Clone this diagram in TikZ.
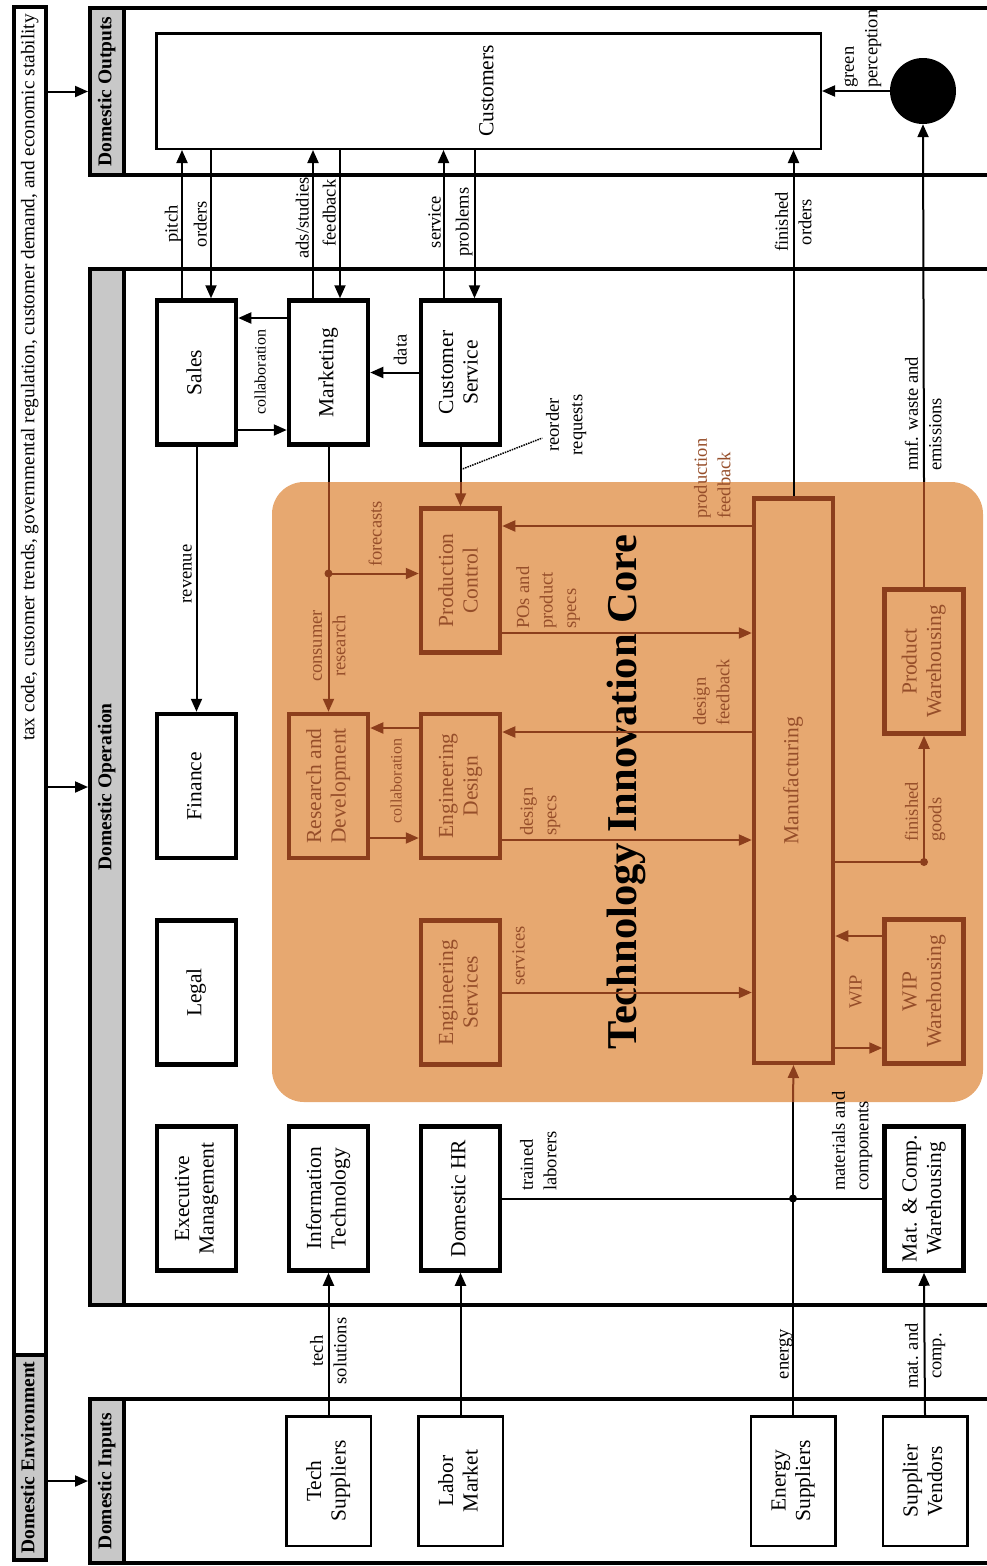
\documentclass[tikz,border=0pt]{standalone}
\usepackage{fontspec}
\setmainfont{Liberation Serif}
\usepackage{graphicx}
\usepackage{tikz}
\usetikzlibrary{arrows.meta}

\definecolor{panelgray}{RGB}{200,200,200}
\definecolor{corefill}{RGB}{231,168,112}
\definecolor{brn}{RGB}{140,62,28}
\definecolor{brntext}{RGB}{150,78,42}

\newcommand{\rottext}[2][c]{\rotatebox{90}{\begin{tabular}{@{}#1@{}}#2\end{tabular}}}
\newcommand{\boxfont}{\fontsize{21.5}{24.5}\selectfont}
\newcommand{\tagfont}{\fontsize{18.5}{23.5}\selectfont}
\newcommand{\smalltagfont}{\fontsize{16}{18}\selectfont}
\newcommand{\panelfont}{\fontsize{19.5}{22}\selectfont\bfseries}
\newcommand{\titlefont}{\fontsize{42.5}{45}\selectfont\bfseries}

\begin{document}
\begin{tikzpicture}[x=1pt, y=-1pt, node distance=132pt, >={Triangle[length=13pt,width=11pt]}]
\tikzstyle{opbox} = [draw, rectangle, fill=white, line width=4.5pt, minimum width=79pt, minimum height=144pt, inner sep=0pt, font=\boxfont]
\tikzstyle{corebox} = [opbox, draw=brn, fill=none, text=brntext]
\tikzstyle{inbox} = [draw, rectangle, fill=white, line width=2.5pt, minimum width=84.5pt, minimum height=129.5pt, inner sep=0pt, font=\boxfont]
\tikzstyle{paneltag} = [draw, rectangle, fill=panelgray, line width=4pt, minimum width=34pt, inner sep=0pt, font=\panelfont]
\tikzstyle{lbl} = [inner sep=0pt, font=\tagfont]
\tikzstyle{line} = [draw, line width=2pt]
\tikzstyle{arr} = [line, ->]
\tikzstyle{bline} = [draw=brn, line width=2pt]
\tikzstyle{barr} = [bline, ->]

\useasboundingbox (0,0) rectangle (987,1566);
\clip (0,0) rectangle (987,1566);

% environment strip
\node[draw, line width=4pt, minimum width=32pt, minimum height=1553pt, inner sep=0pt] (env) at (30,783.5) {};
\node[paneltag, minimum width=32pt, minimum height=205pt] (envlbl) at (30,1457.5) {\rottext{Domestic Environment}};
\node[lbl, anchor=north, font=\fontsize{19.3}{22}\selectfont] (envtxt) at (30,14) {\rottext{tax code, customer trends, governmental regulation, customer demand, and economic stability}};

% panels
\draw[line width=4pt] (90,8) rectangle (1010,175);
\node[paneltag, minimum height=167pt] (outlbl) at (107,91.5) {\rottext{Domestic Outputs}};
\draw[line width=4pt] (90,269) rectangle (1010,1305);
\node[paneltag, minimum height=1036pt] (oplbl) at (107,787) {\rottext{Domestic Operation}};
\draw[line width=4pt] (90,1399) rectangle (1010,1563);
\node[paneltag, minimum height=164pt] (inlbl) at (107,1481) {\rottext{Domestic Inputs}};

\draw[arr] (env.east |- outlbl.west) -- (outlbl.west);
\draw[arr] (env.east |- oplbl.west) -- (oplbl.west);
\draw[arr] (env.east |- inlbl.west) -- (inlbl.west);

% outputs
\node[draw, line width=2.5pt, minimum width=664.5pt, minimum height=115.5pt, inner sep=0pt, font=\boxfont] (cust) at (488.5,91) {\rottext{Customers}};
\node[circle, fill=black, minimum size=66pt, inner sep=0pt] (green) at (923,91) {};

% technology innovation core
\node[fill=corefill, rounded corners=32pt, minimum width=711pt, minimum height=620pt, inner sep=0pt, font=\titlefont] (core) at (627.5,792) {\rottext{Technology Innovation Core}};

% operation boxes
\node[opbox] (sales) at (196.5,372.5) {\rottext{Sales}};
\node[opbox, right of=sales] (mkt) {\rottext{Marketing}};
\node[opbox, right of=mkt] (cserv) {\rottext{Customer\\Service}};
\node[corebox, below of=cserv, yshift=-76pt] (pc) {\rottext{Production\\Control}};
\node[opbox, below of=sales, yshift=-281.5pt] (fin) {\rottext{Finance}};
\node[corebox, right of=fin] (rnd) {\rottext{Research and\\Development}};
\node[corebox, right of=rnd] (ed) {\rottext{Engineering\\Design}};
\node[opbox, below of=fin, yshift=-74.5pt] (legal) {\rottext{Legal}};
\node[corebox, right of=legal, xshift=132pt] (es) {\rottext{Engineering\\Services}};
\node[opbox, below of=legal, yshift=-74pt] (exec) {\rottext{Executive\\Management}};
\node[opbox, right of=exec] (it) {\rottext{Information\\Technology}};
\node[opbox, right of=it] (hr) {\rottext{Domestic HR}};

\node[corebox, minimum height=564.5pt] (mfg) at (793.5,780.5) {\rottext{Manufacturing}};
\node[corebox] (pwh) at (924,661.5) {\rottext{Product\\Warehousing}};
\node[corebox] (wip) at (924,991.5) {\rottext{WIP\\Warehousing}};
\node[opbox] (mcw) at (924,1198.5) {\rottext{Mat. \& Comp.\\Warehousing}};

% inputs
\node[inbox] (techsup) at (328.5,1481) {\rottext{Tech\\Suppliers}};
\node[inbox, right of=techsup] (labor) {\rottext{Labor\\Market}};
\node[inbox] (energy) at (793,1481) {\rottext{Energy\\Suppliers}};
\node[inbox, right of=energy] (vendors) {\rottext{Supplier\\Vendors}};

% customers and front office
\draw[arr] ([xshift=-14.5pt]sales.north) -- ([xshift=-14.5pt]sales.north |- cust.south);
\draw[arr] ([xshift=14.5pt]sales.north |- cust.south) -- ([xshift=14.5pt]sales.north);
\draw[arr] ([xshift=-15.5pt]mkt.north) -- ([xshift=-15.5pt]mkt.north |- cust.south);
\draw[arr] ([xshift=11.5pt]mkt.north |- cust.south) -- ([xshift=11.5pt]mkt.north);
\draw[arr] ([xshift=-17pt]cserv.north) -- ([xshift=-17pt]cserv.north |- cust.south);
\draw[arr] ([xshift=14pt]cserv.north |- cust.south) -- ([xshift=14pt]cserv.north);
\draw[arr] ([yshift=54.5pt]mkt.west) -- ([yshift=54.5pt]sales.east);
\draw[arr] ([yshift=-57.5pt]sales.east) -- ([yshift=-57.5pt]mkt.west);
\draw[arr] (cserv.west) -- (mkt.east);
\draw[arr] (sales.south) -- (fin.north);
\draw[arr] (mfg.north) -- (mfg.north |- cust.south);
\draw[line, brn] (pwh.north) -- (pwh.north |- core.north);
\draw[arr] (pwh.north |- core.north) -- (green.south);
\draw[arr] (green.west) -- (green.west -| cust.east);

\node[lbl] (lpitch) at (173,224) {\rottext{pitch}};
\node[lbl] (lorders) at (202,224) {\rottext{orders}};
\node[lbl] (lads) at (304,218) {\rottext{ads/studies}};
\node[lbl] (lfeed) at (331,213) {\rottext{feedback}};
\node[lbl] (lserv) at (436,222) {\rottext{service}};
\node[lbl] (lprob) at (464,222) {\rottext{problems}};
\node[lbl] (lfinord) at (795,222) {\rottext{finished\\orders}};
\node[lbl, anchor=south] (lgreen) at (861,88) {\rottext[l]{green\\perception}};
\node[lbl, font=\smalltagfont] (lcollab) at (262,372) {\rottext{collaboration}};
\node[lbl] (ldata) at (402,350) {\rottext{data}};
\node[lbl] (lrev) at (187,574) {\rottext{revenue}};
\node[lbl] (lreorder) at (566,425) {\rottext{reorder\\requests}};
\node[lbl, anchor=south] (lwaste) at (925,471) {\rottext[l]{mnf. waste and\\emissions}};

% core flows
\draw[line] (mkt.south) -- (mkt.south |- core.north);
\draw[barr] (mkt.south |- core.north) -- (rnd.north);
\coordinate (fork) at ([yshift=7pt]mkt.south |- pc.west);
\fill[brn] (fork) circle (4pt);
\draw[barr] (fork) -- (fork -| pc.west);
\draw[line] (cserv.south) -- (cserv.south |- core.north);
\draw[barr] (cserv.south |- core.north) -- (pc.north);
\draw[densely dotted, line width=1.5pt] ([yshift=-23pt]cserv.south) -- ([yshift=-13pt]lreorder.west);
\draw[barr] ([yshift=-52.5pt]pc.east) -- ([yshift=-52.5pt]pc.east -| mfg.west);
\draw[barr] ([yshift=54.5pt]pc.east -| mfg.west) -- ([yshift=54.5pt]pc.east);
\draw[barr] ([yshift=54pt]ed.east -| mfg.west) -- ([yshift=54pt]ed.east);
\draw[barr] ([yshift=-54pt]ed.east) -- ([yshift=-54pt]ed.east -| mfg.west);
\draw[barr] ([yshift=58pt]ed.west) -- ([yshift=58pt]rnd.east);
\draw[barr] ([yshift=-52pt]rnd.east) -- ([yshift=-52pt]ed.west);
\draw[barr] (es.east) -- (es.east -| mfg.west);
\coordinate (goods) at ([yshift=-81.5pt]mfg.east -| pwh.south);
\draw[bline] ([yshift=-81.5pt]mfg.east) -- (goods);
\fill[brn] (goods) circle (4pt);
\draw[barr] (goods) -- (pwh.south);
\draw[barr] ([yshift=-56.5pt]wip.west -| mfg.east) -- ([yshift=-56.5pt]wip.west);
\draw[barr] ([yshift=55.5pt]wip.west) -- ([yshift=55.5pt]wip.west -| mfg.east);

\node[lbl, text=brntext] (lfore) at (377,534) {\rottext{forecasts}};
\node[lbl, text=brntext] (lcons) at (329,646) {\rottext{consumer\\research}};
\node[lbl, anchor=south, text=brntext] (lpos) at (548,629) {\rottext[l]{POs and\\product\\specs}};
\node[lbl, anchor=south, text=brntext] (lprodfb) at (714,519) {\rottext[l]{production\\feedback}};
\node[lbl, anchor=south, text=brntext] (ldesfb) at (713,726) {\rottext[l]{design\\feedback}};
\node[lbl, anchor=south, text=brntext] (ldesspec) at (540,836) {\rottext[l]{design\\specs}};
\node[lbl, font=\smalltagfont, text=brntext] (lcollab2) at (398,781) {\rottext{collaboration}};
\node[lbl, anchor=south, text=brntext] (lsvc) at (520,986) {\rottext{services}};
\node[lbl, text=brntext] (lwip) at (857,992) {\rottext{WIP}};
\node[lbl, anchor=south, text=brntext] (lgoods) at (925,842) {\rottext[l]{finished\\goods}};

% supply side
\coordinate (supply) at (energy.north |- hr.east);
\draw[line] (hr.east) -- (mcw.west);
\fill (supply) circle (4pt);
\draw[line] (energy.north) -- (energy.north |- core.south);
\draw[barr] (energy.north |- core.south) -- (mfg.south);
\draw[arr] (vendors.north) -- (mcw.south);
\draw[arr] (techsup.north) -- (it.south);
\draw[arr] (labor.north) -- (hr.south);

\node[lbl, anchor=south] (ltrained) at (540,1191) {\rottext[l]{trained\\laborers}};
\node[lbl, anchor=south] (lmat) at (852,1191) {\rottext[l]{materials and\\components}};
\node[lbl] (lenergy) at (784,1354) {\rottext{energy}};
\node[lbl] (lmatcomp) at (925,1356) {\rottext{mat. and\\comp.}};
\node[lbl] (ltech) at (330,1351) {\rottext{tech\\solutions}};
\end{tikzpicture}
\end{document}
